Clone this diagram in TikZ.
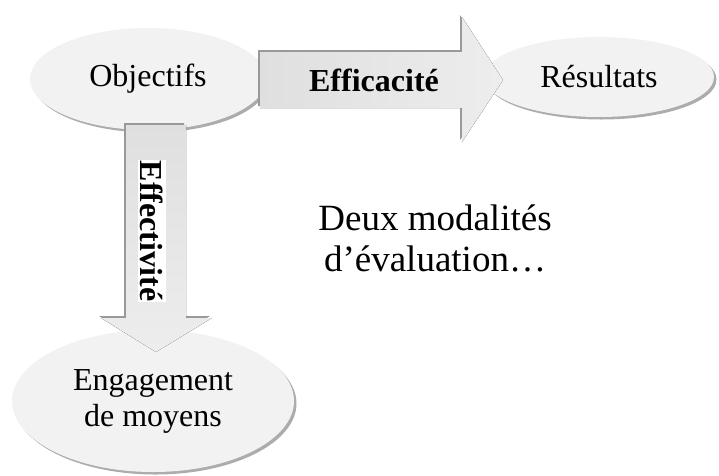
\documentclass[tikz,border=0pt]{standalone}
\usepackage{fontspec}
\setmainfont{Liberation Serif}
\usetikzlibrary{shapes.geometric}
\usetikzlibrary{shadows}

\tikzset{
  bubble/.style={ellipse, fill=gray!10, inner sep=0pt, align=center,
    general shadow={fill=gray!65, shadow xshift=2.5pt, shadow yshift=-2.5pt},
    font=\fontsize{32}{36}\selectfont},
  rim/.style={fill=gray!80, transform canvas={shift={(-2pt,2pt)}}},
  hbody/.style={left color=gray!25, right color=gray!14},
  vbody/.style={top color=gray!25, bottom color=gray!14},
  boldlbl/.style={font=\bfseries\fontsize{32}{36}\selectfont}
}

\begin{document}
\begin{tikzpicture}[x=1pt, y=-1pt]
\useasboundingbox (0,0) rectangle (719,475);

\node [bubble, minimum width=236pt, minimum height=102pt] (obj) at (148,79) {Objectifs};
\node [bubble, minimum width=230pt, minimum height=80pt] (res) at (599,77) {Résultats};
\node [bubble, minimum width=282pt, minimum height=142pt] (eng) at (153,401) {Engagement\\de moyens};

% block arrows, with their dark rim first
\coordinate (effTail) at (260,80);
\coordinate (effTip) at (503,80);
\coordinate (fctTail) at (156,125);
\coordinate (fctTip) at (156,352);

\foreach \sty in {rim, hbody}
  \fill [\sty] (effTail) ++(0,-28) -- ++(202,0) -- ++(0,-35) -- (effTip)
    -- ++(-41,62) -- ++(0,-34) -- ++(-202,0) -- cycle;
\foreach \sty in {rim, vbody}
  \fill [\sty] (fctTail) ++(-30,0) -- ++(60,0) -- ++(0,193) -- ++(26,0) -- (fctTip)
    -- ++(-55,-34) -- ++(25,0) -- cycle;

\node [boldlbl] (effi) at (374,80) {Efficacité};
\node [boldlbl, rotate=-90, fill=white, inner xsep=1pt, inner ysep=3pt] (effe) at (152,231) {Effectivité};

\node [align=center, font=\fontsize{37}{41}\selectfont] (deux) at (435,238) {Deux modalités\\d’évaluation…};
\end{tikzpicture}
\end{document}
